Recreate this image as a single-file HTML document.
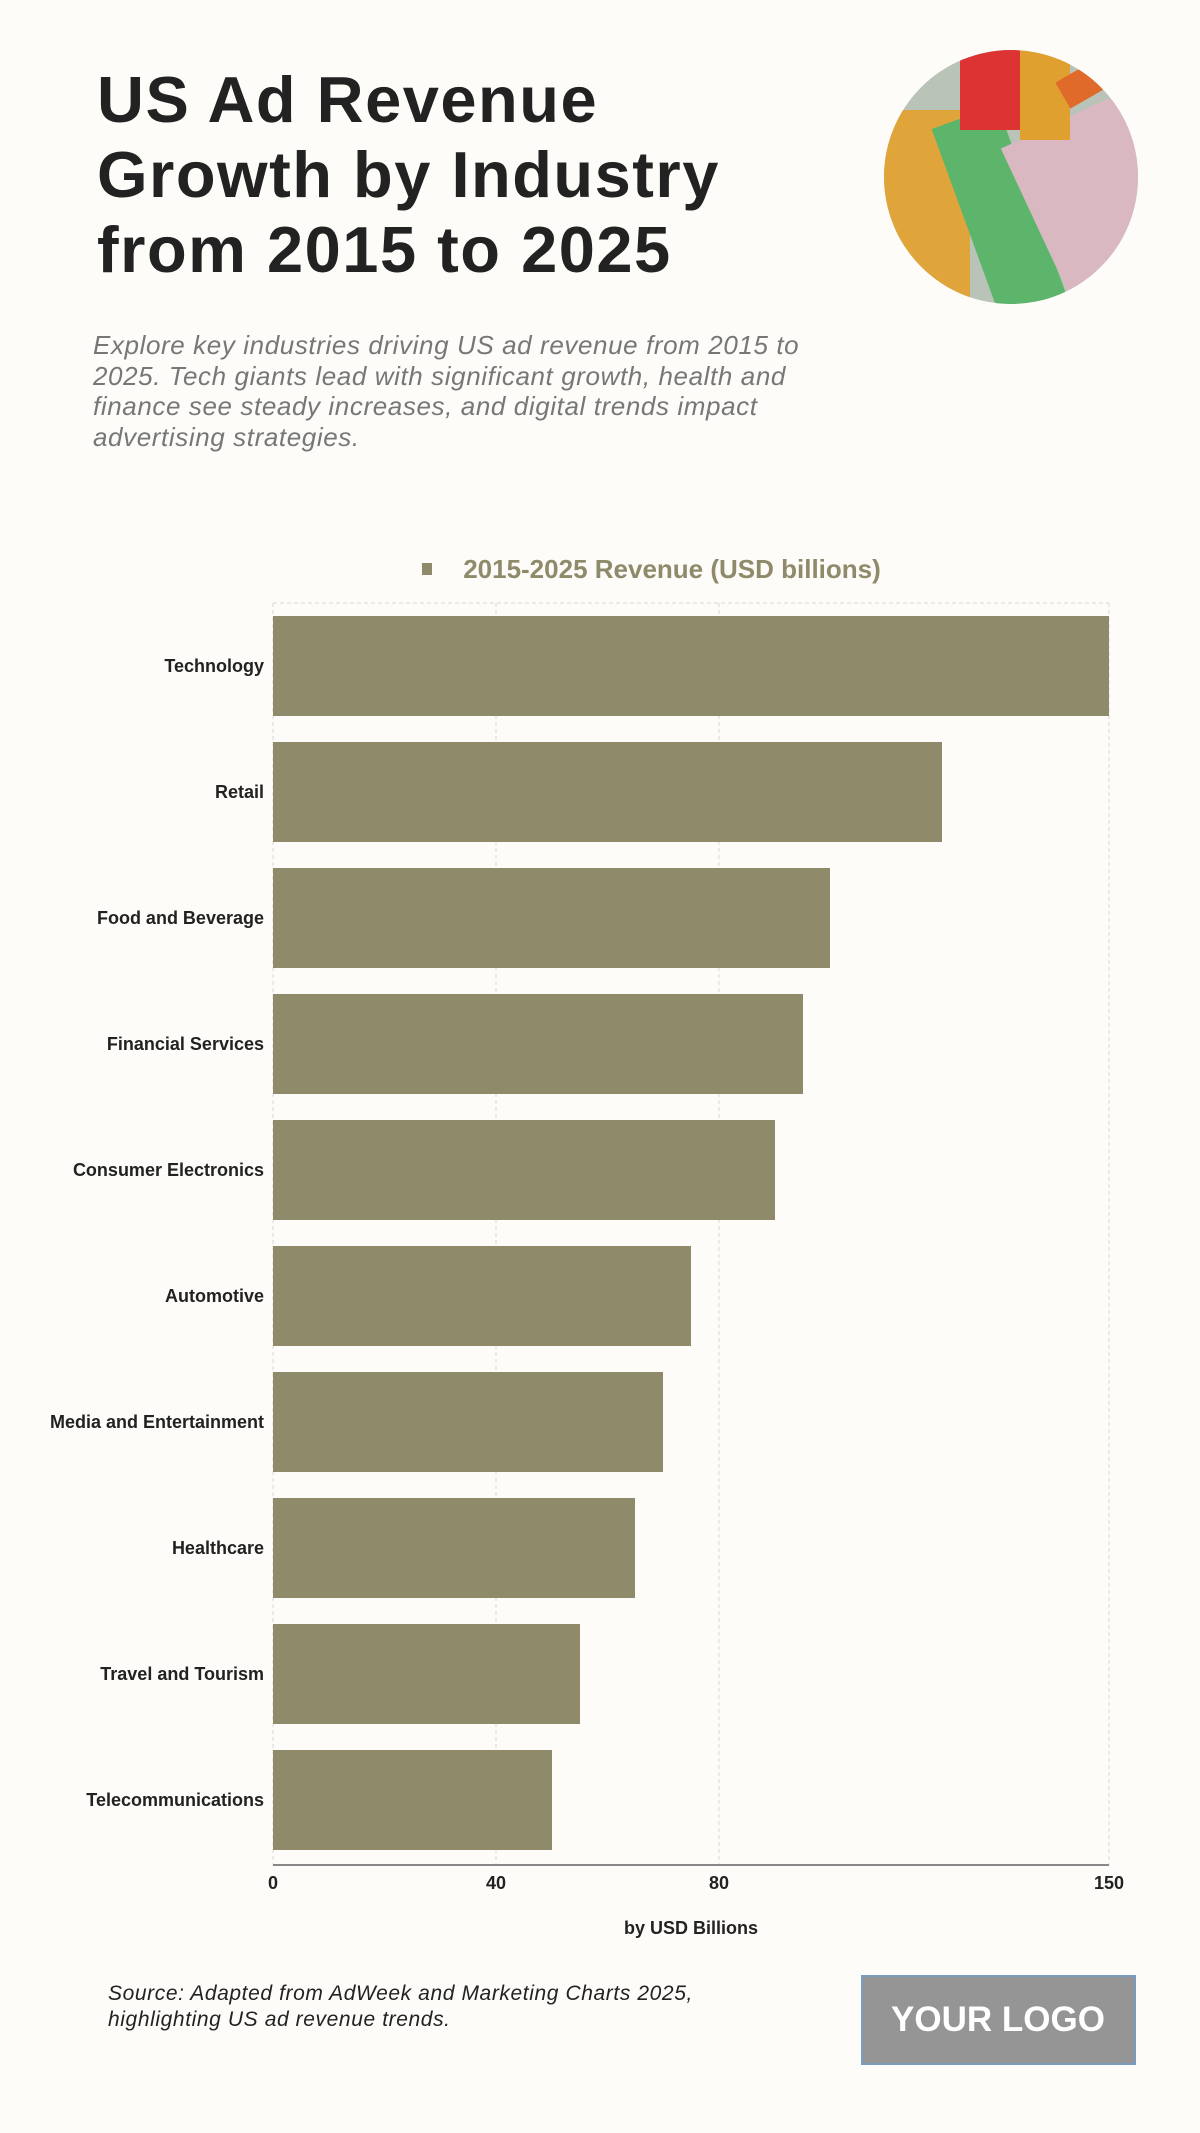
<!DOCTYPE html>
<html><head><meta charset="utf-8"><style>
body{margin:0;width:1200px;height:2133px;background:#fdfcf8;font-family:"Liberation Sans",sans-serif;position:relative;overflow:hidden}
.t{position:absolute;left:97px;top:62px;font-size:65px;font-weight:bold;line-height:75px;color:#222;letter-spacing:1.5px}
.s{position:absolute;left:93px;top:330px;font-size:26px;font-style:italic;line-height:30.5px;color:#777;width:780px;letter-spacing:0.6px}
</style></head><body>
<div class="t">US Ad Revenue<br>Growth by Industry<br>from 2015 to 2025</div>
<div class="s">Explore key industries driving US ad revenue from 2015 to<br>2025. Tech giants lead with significant growth, health and<br>finance see steady increases, and digital trends impact<br>advertising strategies.</div>
<svg width="1200" height="2133" style="position:absolute;left:0;top:0">
<defs><clipPath id="c"><circle cx="1011" cy="177" r="127"/></clipPath></defs>
<g clip-path="url(#c)">
<rect x="880" y="40" width="270" height="280" fill="#b9c3b8"/>
<rect x="880" y="110" width="90" height="220" fill="#e0a53a"/>
<rect x="960" y="110" width="70" height="220" fill="#5cb56a" transform="rotate(-20 1000 200)"/>
<rect x="1030" y="120" width="130" height="180" fill="#d9b8c2" transform="rotate(-25 1080 200)"/>
<rect x="960" y="40" width="60" height="90" fill="#d33" />
<rect x="1020" y="40" width="50" height="100" fill="#e0a030"/>
<rect x="1060" y="60" width="100" height="30" fill="#e06a2a" transform="rotate(-30 1100 80)"/>
</g>
<text x="672" y="578" font-size="26" font-weight="bold" fill="#8e8a6a" text-anchor="middle">2015-2025 Revenue (USD billions)</text>
<rect x="422" y="563" width="10" height="12" fill="#8e8a6a"/>
<g stroke="#d8d8d4" stroke-dasharray="4,3" stroke-width="1">
<line x1="273" y1="603" x2="1109" y2="603"/>
<line x1="273" y1="603" x2="273" y2="1865"/>
<line x1="496" y1="603" x2="496" y2="1865"/>
<line x1="719" y1="603" x2="719" y2="1865"/>
<line x1="1109" y1="603" x2="1109" y2="1865"/>
</g>
<g fill="#8f8a6a">
<rect x="273" y="616" width="836" height="100"/>
<rect x="273" y="742" width="669" height="100"/>
<rect x="273" y="868" width="557" height="100"/>
<rect x="273" y="994" width="530" height="100"/>
<rect x="273" y="1120" width="502" height="100"/>
<rect x="273" y="1246" width="418" height="100"/>
<rect x="273" y="1372" width="390" height="100"/>
<rect x="273" y="1498" width="362" height="100"/>
<rect x="273" y="1624" width="307" height="100"/>
<rect x="273" y="1750" width="279" height="100"/>
</g>
<g font-size="18" font-weight="bold" fill="#222" text-anchor="end">
<text x="264" y="672">Technology</text>
<text x="264" y="798">Retail</text>
<text x="264" y="924">Food and Beverage</text>
<text x="264" y="1050">Financial Services</text>
<text x="264" y="1176">Consumer Electronics</text>
<text x="264" y="1302">Automotive</text>
<text x="264" y="1428">Media and Entertainment</text>
<text x="264" y="1554">Healthcare</text>
<text x="264" y="1680">Travel and Tourism</text>
<text x="264" y="1806">Telecommunications</text>
</g>
<line x1="273" y1="1865" x2="1109" y2="1865" stroke="#888" stroke-width="2"/>
<g font-size="18" font-weight="bold" fill="#222" text-anchor="middle">
<text x="273" y="1889">0</text><text x="496" y="1889">40</text><text x="719" y="1889">80</text><text x="1109" y="1889">150</text>
<text x="691" y="1934">by USD Billions</text>
</g>
<g font-size="21" font-style="italic" fill="#222" letter-spacing="0.6">
<text x="108" y="2000">Source: Adapted from AdWeek and Marketing Charts 2025,</text>
<text x="108" y="2026">highlighting US ad revenue trends.</text>
</g>
<rect x="862" y="1976" width="273" height="88" fill="#959595" stroke="#7a9cc0" stroke-width="2"/>
<text x="998" y="2031" font-size="35" font-weight="bold" fill="#fff" text-anchor="middle">YOUR LOGO</text>
</svg>
</body></html>
